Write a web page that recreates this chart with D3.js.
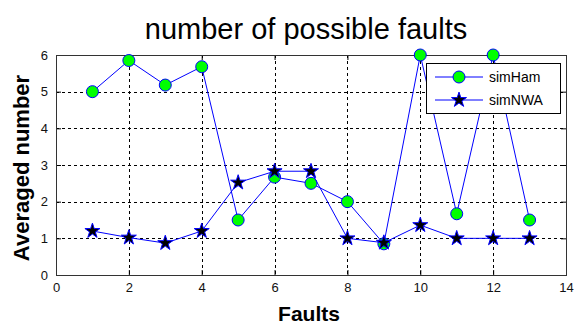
<!DOCTYPE html>
<html>
<head>
<meta charset="utf-8">
<script src="https://cdn.jsdelivr.net/npm/d3@7"></script>
<style>
  html, body { margin: 0; padding: 0; background: #fff; }
  svg { display: block; }
</style>
</head>
<body>
<svg id="chart" width="574" height="324"></svg>
<script>
// Fault indices and the averaged number of possible faults per method
const faults = [1, 2, 3, 4, 5, 6, 7, 8, 9, 10, 11, 12, 13];
const simHam = [5.0, 5.85, 5.18, 5.68, 1.5, 2.67, 2.5, 2.0, 0.85, 6.0, 1.67, 6.0, 1.5];
const simNWA = [1.2, 1.02, 0.87, 1.2, 2.52, 2.83, 2.83, 1.0, 0.88, 1.36, 1.0, 1.0, 1.0];
const xTicks = [0, 2, 4, 6, 8, 10, 12, 14];
const yTicks = [0, 1, 2, 3, 4, 5, 6];
const seriesNames = ["simHam", "simNWA"];

const svg = d3.select("#chart");
const W = 574, H = 324;
const m = { left: 56, right: 8, top: 55, bottom: 49 };
const pw = W - m.left - m.right, ph = H - m.top - m.bottom;

const x = d3.scaleLinear().domain([0, 14]).range([m.left, m.left + pw]);
const y = d3.scaleLinear().domain([0, 6]).range([m.top + ph, m.top]);

const font = "'Liberation Sans', Arial, sans-serif";

// Title
svg.append("text")
  .attr("x", m.left + pw / 2 - 5).attr("y", 39)
  .attr("text-anchor", "middle")
  .style("font-family", font).style("font-size", "29px")
  .text("number of possible faults");

// Axis labels
svg.append("text")
  .attr("x", m.left + pw / 2 - 2).attr("y", 321)
  .attr("text-anchor", "middle")
  .style("font-family", font).style("font-size", "21px").style("font-weight", "bold")
  .text("Faults");

svg.append("text")
  .attr("transform", `translate(29,${m.top + ph / 2 + 3}) rotate(-90)`)
  .attr("text-anchor", "middle")
  .style("font-family", font).style("font-size", "22px").style("font-weight", "bold")
  .text("Averaged number");

// Dashed grid
const grid = svg.append("g").attr("stroke", "#000").attr("stroke-width", 1)
  .attr("stroke-dasharray", "3,3").attr("shape-rendering", "crispEdges");
grid.selectAll("line.vx").data(xTicks.slice(1, -1)).join("line")
  .attr("x1", d => Math.round(x(d)) + 0.5).attr("x2", d => Math.round(x(d)) + 0.5)
  .attr("y1", m.top).attr("y2", m.top + ph);
grid.selectAll("line.hy").data(yTicks.slice(1, -1)).join("line")
  .attr("y1", d => Math.round(y(d)) + 0.5).attr("y2", d => Math.round(y(d)) + 0.5)
  .attr("x1", m.left).attr("x2", m.left + pw);

// Axes with inward ticks on all four sides
const tickLen = 5;
const axisStyle = g => {
  g.select(".domain").remove();
  g.selectAll(".tick line").attr("stroke", "#000");
  g.selectAll(".tick text").style("font-family", font).style("font-size", "13px").attr("fill", "#111");
};
svg.append("g").attr("transform", `translate(0,${m.top + ph})`)
  .call(d3.axisBottom(x).tickValues(xTicks).tickFormat(d3.format("d"))
    .tickSizeInner(-tickLen).tickSizeOuter(0).tickPadding(8))
  .call(axisStyle);
svg.append("g").attr("transform", `translate(0,${m.top})`)
  .call(d3.axisTop(x).tickValues(xTicks).tickSizeInner(-tickLen).tickSizeOuter(0).tickFormat(""))
  .call(axisStyle);
svg.append("g").attr("transform", `translate(${m.left},0)`)
  .call(d3.axisLeft(y).tickValues(yTicks).tickFormat(d3.format("d"))
    .tickSizeInner(-tickLen).tickSizeOuter(0).tickPadding(8))
  .call(axisStyle);
svg.append("g").attr("transform", `translate(${m.left + pw},0)`)
  .call(d3.axisRight(y).tickValues(yTicks).tickSizeInner(-tickLen).tickSizeOuter(0).tickFormat(""))
  .call(axisStyle);

// Plot box
svg.append("rect")
  .attr("x", m.left + 0.5).attr("y", m.top + 0.5)
  .attr("width", pw).attr("height", ph)
  .attr("fill", "none").attr("stroke", "#333").attr("stroke-width", 1)
  .attr("shape-rendering", "crispEdges");

const line = d3.line().x(d => x(d[0])).y(d => y(d[1]));
const star = d3.symbol().type(d3.symbolStar).size(70);

function drawSeries(vals, kind) {
  const pts = faults.map((f, i) => [f, vals[i]]);
  svg.append("path").datum(pts)
    .attr("d", line).attr("fill", "none").attr("stroke", "#0000ff").attr("stroke-width", 1);
  const g = svg.append("g");
  if (kind === "circle") {
    g.selectAll("circle").data(pts).join("circle")
      .attr("cx", d => x(d[0])).attr("cy", d => y(d[1])).attr("r", 6)
      .attr("fill", "#00ff00").attr("stroke", "#0000ff").attr("stroke-width", 1);
  } else {
    g.selectAll("path").data(pts).join("path")
      .attr("transform", d => `translate(${x(d[0])},${y(d[1])})`)
      .attr("d", star).attr("fill", "#000").attr("stroke", "#0000ff").attr("stroke-width", 1);
  }
}
drawSeries(simHam, "circle");
drawSeries(simNWA, "star");

// Legend
const lg = svg.append("g").attr("transform", "translate(426,63)");
lg.append("rect").attr("x", 0.5).attr("y", 0.5).attr("width", 134).attr("height", 50)
  .attr("fill", "#fff").attr("stroke", "#000").attr("stroke-width", 1)
  .attr("shape-rendering", "crispEdges");
seriesNames.forEach((name, i) => {
  const cy = 14 + i * 23;
  lg.append("line").attr("x1", 9).attr("x2", 57).attr("y1", cy).attr("y2", cy)
    .attr("stroke", "#0000ff").attr("stroke-width", 1);
  if (i === 0) {
    lg.append("circle").attr("cx", 33).attr("cy", cy).attr("r", 6)
      .attr("fill", "#00ff00").attr("stroke", "#0000ff");
  } else {
    lg.append("path").attr("transform", `translate(33,${cy})`).attr("d", star)
      .attr("fill", "#000").attr("stroke", "#0000ff");
  }
  lg.append("text").attr("x", 63).attr("y", cy + 5)
    .style("font-family", font).style("font-size", "14px").text(name);
});
</script>
</body>
</html>
